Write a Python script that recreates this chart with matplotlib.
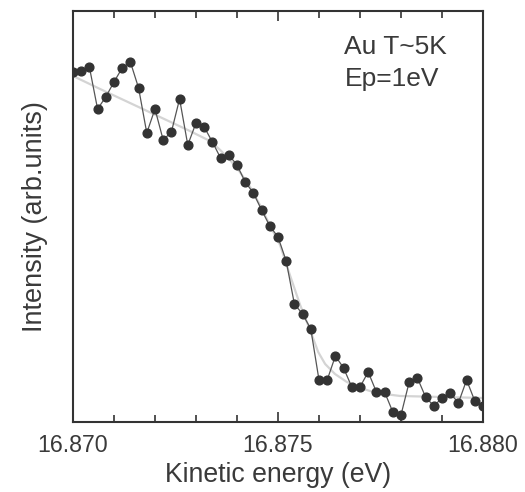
import numpy as np
import matplotlib
matplotlib.use('Agg')
from matplotlib import pyplot as plt
from matplotlib.ticker import MultipleLocator, FormatStrFormatter

plt.rcParams['font.family'] = ['Liberation Sans', 'DejaVu Sans']

# measured points: kinetic energy (eV) and intensity (arb. units)
energy = [16.8700 + 0.0002 * i for i in range(51)]
intensity = [350, 351, 355, 313, 325, 340, 354, 360, 334, 289,
             313, 282, 290, 323, 277, 299, 295, 280, 264, 267,
             257, 240, 229, 212, 196, 185, 161, 118, 108, 93,
             42, 42, 66, 54, 35, 35, 50, 30, 30, 10,
             7, 40, 44, 25, 16, 24, 29, 19, 42, 21, 16]

# fitted curve
fit_energy = [16.87000, 16.87066, 16.87139, 16.87212, 16.87285, 16.87334,
              16.87359, 16.87383, 16.87407, 16.87432, 16.87456, 16.87480,
              16.87505, 16.87529, 16.87554, 16.87580, 16.87598, 16.87615,
              16.87639, 16.87668, 16.87700, 16.87741, 16.87798, 16.88000]
fit_intensity = [346, 333, 319, 305, 291, 281, 272, 262, 250, 235, 217, 197,
                 177, 147, 117, 90, 70, 58, 48, 40, 34, 29, 26, 24]

fig = plt.figure(figsize=(5.25, 4.92), dpi=100)
ax = fig.add_axes([0.139, 0.1423, 0.781, 0.8354])

ax.plot(fit_energy, fit_intensity, color='#d4d4d4', lw=1.6, zorder=1)
ax.plot(energy, intensity, color='#555555', lw=0.9, marker='o', ms=6.3,
        mfc='#333333', mec='#333333', zorder=2)

ax.set_xlim(16.870, 16.880)
ax.set_ylim(0, 411)
ax.xaxis.set_major_locator(MultipleLocator(0.005))
ax.xaxis.set_minor_locator(MultipleLocator(0.001))
ax.xaxis.set_major_formatter(FormatStrFormatter('%.3f'))
ax.tick_params(axis='x', which='major', direction='in', length=7, width=1.2,
               top=True, labelsize=16.7, pad=8.5, color='#333333', labelcolor='#3a3a3a')
ax.tick_params(axis='x', which='minor', direction='in', length=5, width=1.2,
               top=True, color='#333333')
ax.set_yticks([])
for s in ax.spines.values():
    s.set_linewidth(1.5)
    s.set_color('#333333')

ax.set_xlabel('Kinetic energy (eV)', fontsize=19.2, color='#3a3a3a', labelpad=4)
ax.set_ylabel('Intensity (arb.units)', fontsize=19.5, color='#3a3a3a', labelpad=18)

ax.text(0.662, 0.895, 'Au T~5K', transform=ax.transAxes, fontsize=19, color='#3a3a3a')
ax.text(0.662, 0.818, 'Ep=1eV', transform=ax.transAxes, fontsize=19, color='#3a3a3a')

fig.savefig('out.png', dpi=100)
